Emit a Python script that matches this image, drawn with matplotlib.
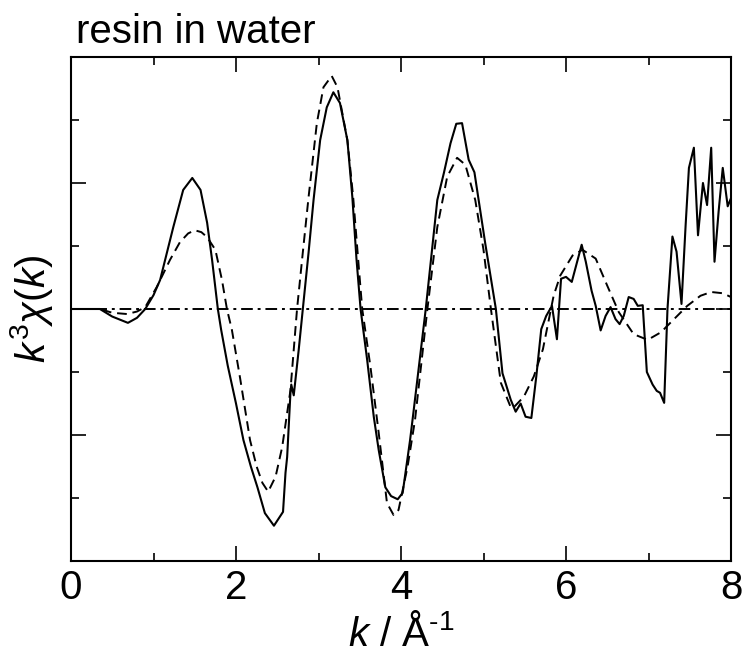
import matplotlib
matplotlib.use("Agg")
import matplotlib.pyplot as plt
from matplotlib.ticker import MultipleLocator

plt.rcParams['font.family'] = ['Liberation Sans', 'DejaVu Sans']
plt.rcParams['mathtext.fontset'] = 'custom'
plt.rcParams['mathtext.rm'] = 'Liberation Sans'
plt.rcParams['mathtext.it'] = 'Liberation Sans:italic'

# experimental k^3 chi(k) (solid)
k_exp = [0.0, 0.35, 0.5, 0.69, 0.8, 0.9, 1.0, 1.08, 1.16, 1.24, 1.36, 1.47, 1.57, 1.65,
         1.71, 1.78, 1.82, 1.9, 2.0, 2.09, 2.18, 2.26, 2.35, 2.46, 2.57, 2.6, 2.62, 2.66,
         2.67, 2.7, 2.76, 2.81, 2.88, 2.94, 3.02, 3.1, 3.18, 3.26, 3.35, 3.41, 3.46, 3.51,
         3.59, 3.67, 3.73, 3.81, 3.88, 3.96, 4.02, 4.11, 4.15, 4.3, 4.44, 4.52, 4.6, 4.67,
         4.74, 4.82, 4.89, 5.02, 5.15, 5.23, 5.33, 5.39, 5.45, 5.51, 5.58, 5.64, 5.7, 5.76,
         5.83, 5.89, 5.94, 6.0, 6.07, 6.19, 6.24, 6.31, 6.36, 6.42, 6.48, 6.54, 6.6, 6.65,
         6.7, 6.76, 6.82, 6.87, 6.93, 6.98, 7.05, 7.1, 7.14, 7.19, 7.23, 7.29, 7.34, 7.4,
         7.45, 7.49, 7.55, 7.6, 7.66, 7.71, 7.76, 7.8, 7.85, 7.9, 7.96, 8.0]
chi_exp = [0.0, 0.0, -0.12, -0.22, -0.14, 0.0, 0.22, 0.46, 0.88, 1.3, 1.89, 2.08, 1.89, 1.37,
           0.78, 0.0, -0.33, -0.9, -1.5, -2.08, -2.5, -2.83, -3.24, -3.44, -3.22, -2.6, -2.35, -1.33,
           -1.2, -1.37, -0.65, 0.0, 0.9, 1.73, 2.68, 3.2, 3.44, 3.27, 2.68, 1.78, 0.8, 0.0,
           -0.81, -1.71, -2.24, -2.83, -2.97, -3.02, -2.92, -2.08, -1.65, 0.0, 1.73, 2.16, 2.63, 2.94,
           2.95, 2.37, 2.17, 1.05, 0.0, -1.02, -1.44, -1.63, -1.5, -1.71, -1.73, -1.07, -0.32, -0.11,
           0.05, -0.48, 0.48, 0.51, 0.43, 1.02, 0.75, 0.29, 0.05, -0.34, -0.11, 0.03, -0.16, -0.24,
           -0.11, 0.19, 0.16, 0.05, 0.06, -1.0, -1.2, -1.3, -1.33, -1.49, 0.0, 1.15, 0.91, 0.08,
           1.33, 2.24, 2.56, 1.17, 2.0, 1.65, 2.56, 0.75, 1.55, 2.24, 1.63, 1.76]

# fitted curve (dashed)
k_fit = [0.0, 0.35, 0.5, 0.68, 0.8, 0.9, 1.04, 1.2, 1.32, 1.42, 1.5, 1.58, 1.65, 1.75, 1.83,
         1.89, 1.95, 2.05, 2.17, 2.25, 2.32, 2.39, 2.48, 2.56, 2.66, 2.74, 2.81, 2.88, 2.98,
         3.06, 3.16, 3.23, 3.35, 3.42, 3.48, 3.53, 3.63, 3.73, 3.83, 3.91, 3.97, 4.08, 4.17,
         4.32, 4.44, 4.56, 4.68, 4.78, 4.9, 5.0, 5.09, 5.21, 5.33, 5.36, 5.49, 5.61, 5.72,
         5.85, 5.93, 6.08, 6.2, 6.36, 6.5, 6.64, 6.82, 6.99, 7.15, 7.31, 7.47, 7.63, 7.76,
         7.9, 8.0]
chi_fit = [0.0, 0.0, -0.06, -0.08, -0.04, 0.03, 0.35, 0.78, 1.06, 1.2, 1.25, 1.22, 1.14, 0.94, 0.46,
           0.0, -0.33, -1.1, -2.08, -2.5, -2.76, -2.9, -2.66, -2.19, -1.29, 0.0, 0.9, 1.78, 2.95,
           3.52, 3.7, 3.52, 2.68, 1.78, 0.8, 0.0, -0.92, -1.97, -3.08, -3.27, -3.19, -2.5, -1.76,
           0.0, 1.3, 2.1, 2.4, 2.29, 1.73, 0.94, 0.0, -1.17, -1.56, -1.57, -1.39, -1.07, -0.64,
           0.21, 0.53, 0.85, 0.94, 0.8, 0.37, -0.05, -0.4, -0.49, -0.37, -0.16, 0.05, 0.21, 0.27,
           0.25, 0.19]

fig = plt.figure(figsize=(7.44, 6.55), dpi=100)
ax = fig.add_axes([71 / 744, 1 - 561 / 655, 660 / 744, 504 / 655])

ax.axhline(0, color='black', lw=1.4, linestyle=(0, (6, 2.5, 1.5, 2.5)))
ax.plot(k_fit, chi_fit, color='black', lw=1.4, linestyle=(0, (5, 3)))
ax.plot(k_exp, chi_exp, color='black', lw=1.5)

ax.set_xlim(0, 8)
ax.set_ylim(-4, 4)
ax.xaxis.set_major_locator(MultipleLocator(2))
ax.xaxis.set_minor_locator(MultipleLocator(1))
ax.yaxis.set_major_locator(MultipleLocator(2))
ax.yaxis.set_minor_locator(MultipleLocator(1))
ax.tick_params(which='both', direction='in', top=True, right=True, width=1.2)
ax.tick_params(which='major', length=11, labelsize=29, pad=6)
ax.tick_params(which='minor', length=6)
ax.tick_params(axis='y', labelleft=False)
for sp in ax.spines.values():
    sp.set_linewidth(1.5)

ax.set_xlabel(r'$k$ / Å$^{\text{-1}}$', fontsize=29, labelpad=5)
ax.set_ylabel(r'$k^3\chi(k)$', fontsize=29, labelpad=8)
fig.text(76 / 744, 1 - 43 / 655, 'resin in water', fontsize=29, ha='left', va='baseline')

fig.savefig('out.png', dpi=100)
